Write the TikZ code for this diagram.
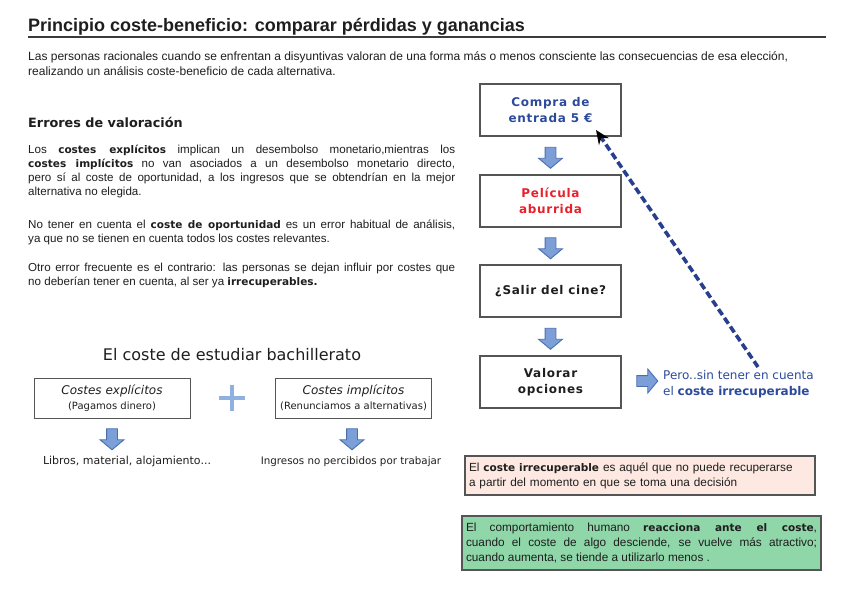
\documentclass[tikz,border=0pt]{standalone}
\usepackage{fontspec}
\setmainfont{Liberation Sans}
\newfontfamily\verd{DejaVu Sans}
\newfontfamily\verdflow[LetterSpace=6]{DejaVu Sans}
\usetikzlibrary{arrows.meta, positioning, calc, shapes.arrows}

% heavy keyword inside the running text
\newcommand{\fuerte}[1]{{\verd\bfseries\fontsize{10.5}{14}\selectfont #1}}

\begin{document}
\begin{tikzpicture}[
    x=1pt, y=-1pt,
    every node/.style={inner sep=0pt},
]

% ---------------------------------------------------------------- colours
\definecolor{ink}{HTML}{1E1E1E}       % running text
\definecolor{boxline}{HTML}{555555}   % box borders
\definecolor{blueink}{HTML}{2C4A9C}   % the purchase, the sunk-cost remark
\definecolor{redink}{HTML}{E8202A}    % the boring film
\definecolor{arrfill}{HTML}{7B9FD6}
\definecolor{arrdraw}{HTML}{4A6EB0}
\definecolor{plusblue}{HTML}{8EB1DF}
\definecolor{dashblue}{HTML}{283F8F}
\definecolor{pinkfill}{HTML}{FDE9E1}
\definecolor{greenfill}{HTML}{8FD6A8}

% ---------------------------------------------------------------- styles
\tikzset{
    flow/.style={
        rectangle, draw=boxline, line width=1.2pt,
        minimum width=141pt, minimum height=52pt, align=center,
        font=\verdflow\bfseries\fontsize{12}{16}\selectfont,
    },
    cost/.style={
        rectangle, draw=boxline, line width=1pt,
        minimum width=156pt, minimum height=40pt, align=center,
        text=ink, font=\verd,
    },
    downarr/.style={
        single arrow, shape border rotate=270,
        draw=arrdraw, line width=0.9pt, fill=arrfill,
        inner sep=5pt, minimum height=21pt,
        single arrow head extend=6.5pt, single arrow tip angle=100,
    },
    rightarr/.style={downarr, shape border rotate=0},
    para/.style={
        anchor=north west, text width=427pt, align=justify, text=ink,
        font=\fontsize{11.6}{14}\selectfont,
    },
    note/.style={
        rectangle, draw=boxline, line width=1.2pt, text=ink,
        font=\fontsize{11.8}{15}\selectfont,
    },
}

\useasboundingbox (0,0) rectangle (848,599);

% ================================================================
% GEOMETRY (pixels of the 848 x 599 sheet, y grows downward)
%   left column    x = 28 .. 455
%   flow boxes     x = 480 .. 621, centres y = 110 / 201 / 291 / 382
%   notes          y = 456 .. 495 and 516 .. 570
% ================================================================

% ---------------------------------------------------------------- heading
\node[anchor=base west, text=ink, font=\bfseries\fontsize{18}{20}\selectfont]
    (titulo) at (28, 32) {Principio coste-beneficio: comparar pérdidas y ganancias};
\draw[boxline!70!black, line width=1.1pt] (28, 37) -- (826, 37);

\node[anchor=north west, align=left, text=ink, font=\fontsize{12}{15}\selectfont]
    (intro) at (28, 51.5)
    {Las personas racionales cuando se enfrentan a disyuntivas valoran de una forma más o menos consciente las consecuencias de esa elección,\\
     realizando un análisis coste-beneficio de cada alternativa.};

% ---------------------------------------------------------------- errores
\node[anchor=base west, text=ink, font=\verd\bfseries\fontsize{12.8}{14}\selectfont]
    (errores) at (28, 128) {Errores de valoración};

\node[para] (p1) at (28, 145.2)
    {Los \fuerte{costes explícitos} implican un desembolso monetario,mientras los\linebreak
     \fuerte{costes implícitos} no van asociados a un desembolso monetario directo,\linebreak
     pero sí al coste de oportunidad, a los ingresos que se obtendrían en la mejor\linebreak
     alternativa no elegida.};

\node[para] (p2) at (28, 220.2)
    {No tener en cuenta el \fuerte{coste de oportunidad} es un error habitual de análisis,\linebreak
     ya que no se tienen en cuenta todos los costes relevantes.};

\node[para] (p3) at (28, 263.2)
    {Otro error frecuente es el contrario: las personas se dejan influir por costes que\linebreak
     no deberían tener en cuenta, al ser ya \fuerte{irrecuperables.}};

% ---------------------------------------------------------------- bachillerato
\node[text=ink, font=\verd\fontsize{16}{18}\selectfont]
    (bach) at (232, 355) {El coste de estudiar bachillerato};

\node[cost] (explicitos) at (112, 398)
    {{\itshape\fontsize{12}{13}\selectfont Costes explícitos}\\[3pt]
     {\fontsize{10}{11}\selectfont (Pagamos dinero)}};
\node[cost] (implicitos) at (353.5, 398)
    {{\itshape\fontsize{12}{13}\selectfont Costes implícitos}\\[3pt]
     {\fontsize{10}{11}\selectfont (Renunciamos a alternativas)}};

% the plus between both kinds of cost
\draw[plusblue, line width=3.6pt] (219, 398) -- (245, 398) (232, 385) -- (232, 411);

\node[downarr] (ae) at (112, 437) {};
\node[downarr] (ai) at (352, 437) {};

\node[text=ink, font=\verd\fontsize{11}{12}\selectfont]
    (libros) at (127, 461) {Libros, material, alojamiento...};
\node[text=ink, font=\verd\fontsize{10.3}{12}\selectfont]
    (ingresos) at (351, 462) {Ingresos no percibidos por trabajar};

% ---------------------------------------------------------------- the cinema
\node[flow, text=blueink] (compra)   at (550.5, 110) {Compra de\\entrada 5 €};
\node[flow, text=redink]  (pelicula) at (550.5, 201) {Película\\aburrida};
\node[flow, text=ink]     (salir)    at (550.5, 291) {¿Salir del cine?};
\node[flow, text=ink]     (valorar)  at (550.5, 382) {Valorar\\opciones};

\node[downarr] (f1) at ($(compra.south)!0.5!(pelicula.north)$) {};
\node[downarr] (f2) at ($(pelicula.south)!0.5!(salir.north)$) {};
\node[downarr] (f3) at ($(salir.south)!0.5!(valorar.north)$) {};

\node[rightarr] (f4) at (645, 381) {};
\node[anchor=west, align=left, text=blueink, font=\verd\fontsize{12}{16}\selectfont]
    (pero) at (663, 384)
    {Pero..sin tener en cuenta\\el {\bfseries coste irrecuperable}};

% the sunk cost pulls the decision back to the ticket
\coordinate (dstart) at (758, 367);
\coordinate (dtip)   at (596, 130);
\draw[dashblue, line width=3.6pt, dash pattern=on 7pt off 3.5pt,
      -{Stealth[length=14pt, width=12pt, black]}] (dstart) -- (dtip);

% ---------------------------------------------------------------- notes
\node[note, fill=pinkfill, minimum width=350pt, minimum height=39pt,
      text width=342pt, align=left] (sunk) at (640, 475.5)
    {El \fuerte{coste irrecuperable} es aquél que no puede recuperarse\\
     a partir del momento en que se toma una decisión};

\node[note, fill=greenfill, minimum width=359pt, minimum height=54pt,
      text width=351pt, align=justify] (reacciona) at (641.5, 543)
    {El comportamiento humano \fuerte{reacciona ante el coste},\linebreak
     cuando el coste de algo desciende, se vuelve más atractivo;\linebreak
     cuando aumenta, se tiende a utilizarlo menos .};

\end{tikzpicture}
\end{document}
